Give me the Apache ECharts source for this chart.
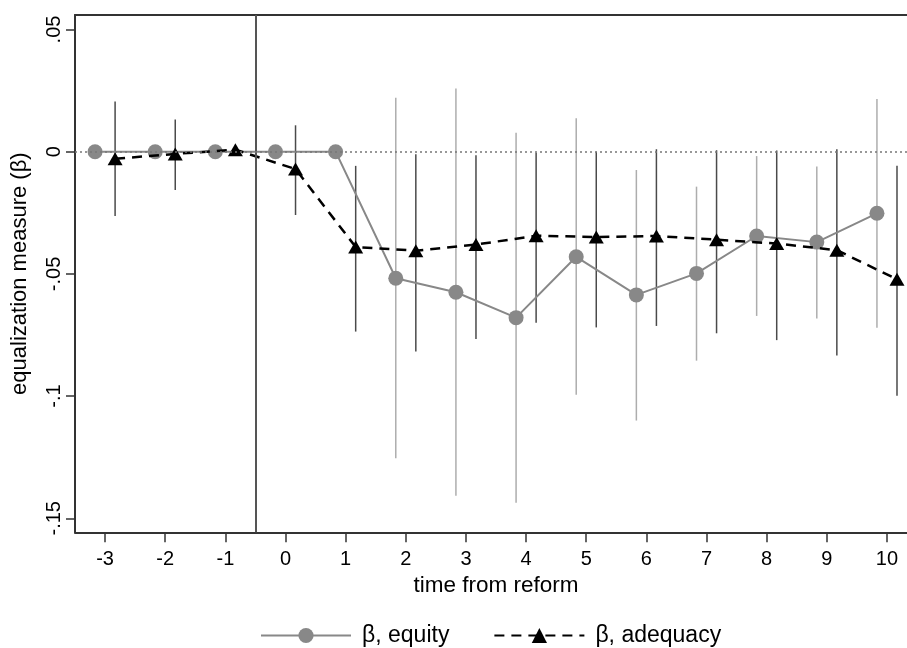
<!DOCTYPE html>
<html><head><meta charset="utf-8">
<script src="https://cdn.jsdelivr.net/npm/echarts@6/dist/echarts.min.js"></script>
<style>html,body{margin:0;padding:0;background:#fff}#c{width:907px;height:648px}</style>
</head><body><div id="c"></div>
<script>
// ---- data ----
const periods = [-3, -2, -1, 0, 1, 2, 3, 4, 5, 6, 7, 8, 9, 10];
const equity     = [0, 0, 0, 0, 0, -0.0518, -0.0575, -0.0679, -0.0430, -0.0586, -0.0498, -0.0345, -0.0370, -0.0252];
const equityLo   = [null, null, null, null, null, -0.1254, -0.1408, -0.1436, -0.0995, -0.1100, -0.0855, -0.0672, -0.0682, -0.0720];
const equityHi   = [null, null, null, null, null, 0.0221, 0.0259, 0.0078, 0.0137, -0.0075, -0.0143, -0.0018, -0.0061, 0.0216];
const adequacy   = [-0.0029, -0.0009, 0.0008, -0.0071, -0.0390, -0.0405, -0.0380, -0.0344, -0.0349, -0.0345, -0.0360, -0.0376, -0.0403, -0.0522];
const adequacyLo = [-0.0263, -0.0157, null, -0.0259, -0.0736, -0.0818, -0.0766, -0.0700, -0.0719, -0.0713, -0.0743, -0.0771, -0.0834, -0.0999];
const adequacyHi = [0.0205, 0.0132, null, 0.0108, -0.0058, -0.0010, -0.0015, -0.0004, 0.0000, 0.0010, 0.0006, 0.0005, 0.0010, -0.0058];
const xTickValues = [-3, -2, -1, 0, 1, 2, 3, 4, 5, 6, 7, 8, 9, 10];
const xTickLabels = ['-3', '-2', '-1', '0', '1', '2', '3', '4', '5', '6', '7', '8', '9', '10'];
const yTickValues = [-0.15, -0.1, -0.05, 0, 0.05];
const yTickLabels = ['-.15', '-.1', '-.05', '0', '.05'];
const seriesNames = ['β, equity', 'β, adequacy'];
const reformLine = -0.5;

// ---- layout / style ----
const EQ_OFF = -1 / 6, AD_OFF = 1 / 6;
const FONT = 'Liberation Sans, Arial, Helvetica, sans-serif';
const AXIS_COLOR = '#333';

function labelFor(values, labels) {
  return function (v) {
    for (let i = 0; i < values.length; i++) if (Math.abs(values[i] - v) < 1e-9) return labels[i];
    return '';
  };
}

function ciSeries(name, off, lo, hi, color) {
  const data = [];
  periods.forEach((t, i) => { if (lo[i] != null) data.push([t + off, lo[i], hi[i]]); });
  return {
    type: 'custom', name: name, data: data, silent: true, z: 2,
    encode: { x: 0, y: [1, 2] },
    renderItem: function (params, api) {
      const a = api.coord([api.value(0), api.value(1)]);
      const b = api.coord([api.value(0), api.value(2)]);
      return { type: 'line', shape: { x1: a[0], y1: a[1], x2: b[0], y2: b[1] },
               style: { stroke: color, lineWidth: 1.5 } };
    }
  };
}

const chart = echarts.init(document.getElementById('c'), null, { renderer: 'canvas' });
chart.setOption({
  animation: false,
  backgroundColor: '#fff',
  textStyle: { fontFamily: FONT },
  grid: { left: 75, top: 15, width: 832, height: 517.3, outerBoundsMode: 'none' },
  xAxis: [{
    type: 'value', min: -3.5, max: 10.333, position: 'bottom',
    axisLine: { show: true, onZero: false, lineStyle: { color: AXIS_COLOR, width: 2 } },
    axisTick: { show: true, customValues: xTickValues, length: 10, lineStyle: { color: AXIS_COLOR, width: 1.5 } },
    axisLabel: { show: true, customValues: xTickValues, formatter: labelFor(xTickValues, xTickLabels),
                 fontSize: 20, color: '#000', margin: 17, fontFamily: FONT },
    splitLine: { show: false },
    name: 'time from reform', nameLocation: 'middle', nameGap: 42,
    nameTextStyle: { fontSize: 22.5, color: '#000', fontFamily: FONT, padding: [0, 0, 0, 10] }
  }, {
    type: 'value', min: -3.5, max: 10.333, position: 'top',
    axisLine: { show: true, onZero: false, lineStyle: { color: AXIS_COLOR, width: 2 } },
    axisTick: { show: false }, axisLabel: { show: false }, splitLine: { show: false }
  }],
  yAxis: {
    type: 'value', min: -0.15573, max: 0.05593,
    axisLine: { show: true, onZero: false, lineStyle: { color: AXIS_COLOR, width: 2 } },
    axisTick: { show: true, customValues: yTickValues, length: 9, lineStyle: { color: AXIS_COLOR, width: 1.5 } },
    axisLabel: { show: true, customValues: yTickValues, formatter: labelFor(yTickValues, yTickLabels),
                 rotate: 90, fontSize: 20, color: '#000', margin: 11, fontFamily: FONT },
    splitLine: { show: false },
    name: 'equalization measure (β)', nameLocation: 'middle', nameGap: 44, nameRotate: 90,
    nameTextStyle: { fontSize: 22, color: '#000', fontFamily: FONT }
  },
  legend: {
    data: seriesNames, left: 255, top: 619, itemWidth: 90, itemHeight: 19, itemGap: 44,
    textStyle: { fontSize: 23, color: '#000', fontFamily: FONT, padding: [0, 0, 0, 6] }
  },
  series: [
    ciSeries('equityCI', EQ_OFF, equityLo, equityHi, '#adadad'),
    ciSeries('adequacyCI', AD_OFF, adequacyLo, adequacyHi, '#4a4a4a'),
    {
      type: 'line', name: seriesNames[0], z: 3,
      data: periods.map((t, i) => [t + EQ_OFF, equity[i]]),
      symbol: 'circle', symbolSize: 15,
      itemStyle: { color: '#888' },
      lineStyle: { color: '#888', width: 2 },
      markLine: {
        silent: true, symbol: 'none', label: { show: false }, animation: false,
        data: [
          { xAxis: reformLine, lineStyle: { color: '#555', width: 2, type: 'solid' } },
          { yAxis: 0, lineStyle: { color: '#777', width: 1.5, type: [2, 3] } }
        ]
      }
    },
    {
      type: 'line', name: seriesNames[1], z: 4,
      data: periods.map((t, i) => [t + AD_OFF, adequacy[i]]),
      symbol: 'triangle', symbolSize: [15, 13],
      itemStyle: { color: '#000' },
      lineStyle: { color: '#000', width: 2.5, type: [10, 7] }
    }
  ]
});
</script></body></html>
